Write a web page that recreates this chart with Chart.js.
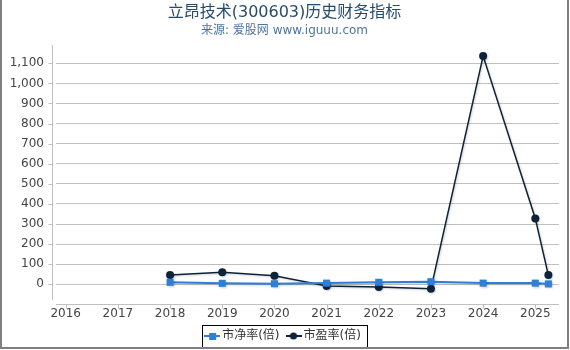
<!DOCTYPE html>
<html>
<head>
<meta charset="utf-8">
<script src="https://cdn.jsdelivr.net/npm/chart.js@4/dist/chart.umd.min.js"></script>
<style>
html,body{margin:0;padding:0;background:#fff;}
#wrap{width:570px;height:350px;position:relative;}
</style>
</head>
<body>
<div id="wrap"><canvas id="c" width="570" height="350"></canvas></div>
<script>
// ---- data ----
const titleText = "立昂技术(300603)历史财务指标";
const subtitleText = "来源: 爱股网 www.iguuu.com";
const seriesNames = ["市净率(倍)", "市盈率(倍)"];
const periods = [2018, 2019, 2020, 2021, 2022, 2023, 2024, 2025, 2025.25];
const pbValues = [10, 5, 3, 6, 10, 13, 6, 6, 2];
const peValues = [46, 60, 43, -8, -13, -22, 1136, 328, 46];
const xTickStep = 1;
const yTickStep = 100;

const FONT = '"DejaVu Sans", "Noto Sans CJK SC", sans-serif';
const PB_COLOR = '#2f7ed8';
const PE_COLOR = '#0d233a';

function legendIcon(color, style) {
  const c = document.createElement('canvas');
  c.width = 16; c.height = 10;
  const g = c.getContext('2d');
  g.strokeStyle = color; g.lineWidth = 2;
  g.beginPath(); g.moveTo(0, 5); g.lineTo(16, 5); g.stroke();
  g.fillStyle = color;
  if (style === 'rect') { g.fillRect(5, 2, 7, 7); }
  else { g.beginPath(); g.arc(8, 5, 3.6, 0, Math.PI * 2); g.fill(); }
  return c;
}
const icons = [legendIcon(PB_COLOR, 'rect'), legendIcon(PE_COLOR, 'circle')];

const toPts = vals => vals.map((v, i) => ({x: periods[i], y: v}));

const shadowPlugin = {
  id: 'shadow',
  beforeDatasetDraw(chart) {
    const ctx = chart.ctx;
    ctx.save();
    ctx.shadowColor = 'rgba(0,0,0,0.18)';
    ctx.shadowOffsetX = 1; ctx.shadowOffsetY = 1; ctx.shadowBlur = 2;
  },
  afterDatasetDraw(chart) { chart.ctx.restore(); }
};

const framePlugin = {
  id: 'frame',
  afterDraw(chart) {
    const {ctx, chartArea: a, scales: {x, y}} = chart;
    ctx.save();
    ctx.strokeStyle = '#c0c0c0'; ctx.lineWidth = 1;
    const ax = Math.round(a.left - 4) + 0.5;
    ctx.beginPath();
    ctx.moveTo(ax, a.top); ctx.lineTo(ax, a.bottom);
    y.ticks.forEach(t => {
      const py = Math.round(y.getPixelForValue(t.value)) + 0.5;
      ctx.moveTo(ax - 4, py); ctx.lineTo(ax, py);
    });
    const ay = Math.round(a.bottom + 4) + 0.5;
    ctx.moveTo(a.left, ay); ctx.lineTo(a.right, ay);
    x.ticks.forEach(t => {
      const px = Math.round(x.getPixelForValue(t.value)) + 0.5;
      ctx.moveTo(px, ay); ctx.lineTo(px, ay + 4);
    });
    ctx.stroke();
    // legend box
    const hb = chart.legend.legendHitBoxes;
    if (hb && hb.length) {
      const last = hb[hb.length - 1];
      const l = hb[0].left - 6, r = last.left + last.width + 6;
      const t = hb[0].top - 5, b = hb[0].top + hb[0].height + 6;
      ctx.strokeStyle = '#000'; ctx.lineWidth = 1;
      ctx.strokeRect(Math.round(l) + 0.5, Math.round(t) + 0.5, Math.round(r - l), Math.round(b - t));
    }
    // outer frame
    ctx.fillStyle = '#7f7f7f';
    ctx.fillRect(0, 0, 2, 349);
    ctx.fillRect(567, 0, 2, 349);
    ctx.fillRect(0, 347, 569, 2);
    ctx.restore();
  }
};

new Chart(document.getElementById('c'), {
  type: 'line',
  data: {
    datasets: [
      {
        label: seriesNames[0], data: toPts(pbValues),
        borderColor: PB_COLOR, backgroundColor: PB_COLOR, borderWidth: 2,
        pointStyle: 'rect', pointRadius: 5, pointBorderWidth: 0,
        pointBackgroundColor: PB_COLOR, tension: 0
      },
      {
        label: seriesNames[1], data: toPts(peValues),
        borderColor: PE_COLOR, backgroundColor: PE_COLOR, borderWidth: 1.5,
        pointStyle: 'circle', pointRadius: 4, pointBorderWidth: 0,
        pointBackgroundColor: PE_COLOR, tension: 0
      }
    ]
  },
  options: {
    responsive: false, animation: false, devicePixelRatio: 1,
    layout: {padding: {left: 10, right: 11, top: 0, bottom: -2}},
    plugins: {
      tooltip: {enabled: false},
      title: {
        display: true, text: titleText, color: '#274b6d',
        font: {family: FONT, size: 16, weight: 'normal', lineHeight: 1.2},
        padding: {top: 3, bottom: 0}
      },
      subtitle: {
        display: true, text: subtitleText, color: '#4d759e',
        font: {family: FONT, size: 12, weight: 'normal', lineHeight: 1.2},
        padding: {top: 1.6, bottom: 6.8}
      },
      legend: {
        position: 'bottom',
        labels: {
          usePointStyle: true, pointStyleWidth: 8, boxHeight: 12,
          color: '#333', font: {family: FONT, size: 12},
          padding: 10,
          generateLabels: chart => chart.data.datasets.map((ds, i) => ({
            text: ds.label, pointStyle: icons[i], datasetIndex: i,
            fontColor: '#333', lineWidth: 0, strokeStyle: 'transparent', fillStyle: ds.borderColor
          }))
        }
      }
    },
    scales: {
      x: {
        type: 'linear', min: 2015.814, max: 2025.454,
        grid: {display: false, drawTicks: false},
        border: {display: false},
        ticks: {
          stepSize: xTickStep, includeBounds: false, autoSkip: false, maxRotation: 0,
          color: '#444', font: {family: FONT, size: 12}, padding: 7,
          callback: v => String(v)
        },
        afterFit: s => { s.height = 20; }
      },
      y: {
        type: 'linear', min: -78, max: 1191,
        grid: {color: '#c0c0c0', drawTicks: false, lineWidth: 1},
        border: {display: false},
        ticks: {
          stepSize: yTickStep, includeBounds: false, maxTicksLimit: 30,
          color: '#444', font: {family: FONT, size: 12}, padding: 12
        },
        afterFit: s => { s.width = 46; }
      }
    }
  },
  plugins: [shadowPlugin, framePlugin]
});
</script>
</body>
</html>
